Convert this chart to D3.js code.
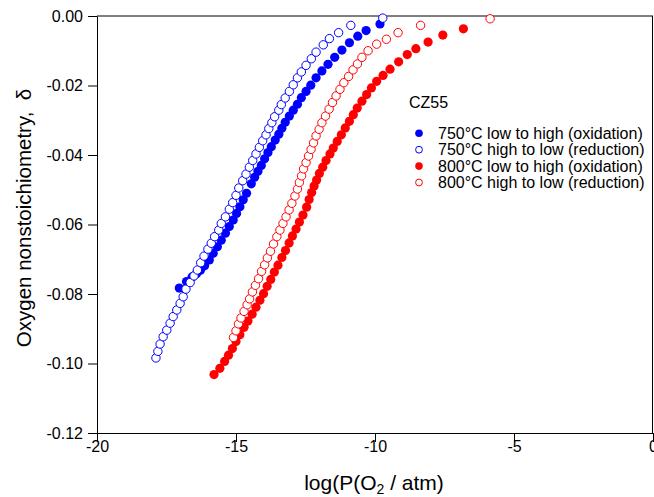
<!DOCTYPE html>
<html>
<head>
<meta charset="utf-8">
<script src="https://cdn.jsdelivr.net/npm/d3@7"></script>
<style>
  body { margin: 0; background: #fff; }
  svg text { font-family: "Liberation Sans", Arial, Helvetica, sans-serif; fill: #000; }
</style>
</head>
<body>
<div id="chart"></div>
<script>
// Data: log(pO2 / atm) and oxygen nonstoichiometry
const blueOxX = [-17.04, -16.78, -16.58, -16.42, -16.28, -16.13, -15.96, -15.82, -15.67, -15.53,
    -15.38, -15.24, -15.10, -14.98, -14.86, -14.74, -14.62, -14.45, -14.33, -14.21,
    -14.09, -13.97, -13.85, -13.73, -13.59, -13.46, -13.35, -13.23, -13.08, -12.94,
    -12.79, -12.65, -12.48, -12.31, -12.12, -11.91, -11.69, -11.45, -11.19, -10.92,
    -10.62, -10.32, -9.82];
const blueOxY = [-0.0783, -0.0764, -0.0751, -0.0742, -0.0732, -0.0719, -0.0702, -0.0683, -0.0664, -0.0645,
    -0.0625, -0.0606, -0.0587, -0.0568, -0.0549, -0.0529, -0.0510, -0.0483, -0.0464, -0.0447,
    -0.0430, -0.0411, -0.0393, -0.0376, -0.0357, -0.0340, -0.0323, -0.0306, -0.0288, -0.0271,
    -0.0254, -0.0235, -0.0217, -0.0199, -0.0178, -0.0158, -0.0139, -0.0119, -0.0098, -0.0077,
    -0.0058, -0.0042, -0.0023];

const blueRedX = [-17.88, -17.81, -17.73, -17.62, -17.49, -17.37, -17.26, -17.13, -17.01, -16.90,
    -16.80, -16.65, -16.51, -16.39, -16.27, -16.15, -16.01, -15.89, -15.77, -15.62,
    -15.53, -15.38, -15.24, -15.12, -15.00, -14.90, -14.76, -14.64, -14.52, -14.40,
    -14.28, -14.16, -14.04, -13.92, -13.82, -13.71, -13.61, -13.46, -13.37, -13.23,
    -13.08, -12.94, -12.79, -12.65, -12.48, -12.29, -12.12, -11.86, -11.64, -11.31,
    -10.87, -9.72];
const blueRedY = [-0.0984, -0.0965, -0.0944, -0.0923, -0.0904, -0.0884, -0.0865, -0.0846, -0.0827, -0.0808,
    -0.0786, -0.0767, -0.0748, -0.0731, -0.0710, -0.0691, -0.0671, -0.0654, -0.0635, -0.0616,
    -0.0597, -0.0578, -0.0556, -0.0537, -0.0516, -0.0495, -0.0474, -0.0455, -0.0435, -0.0416,
    -0.0397, -0.0378, -0.0359, -0.0342, -0.0324, -0.0307, -0.0290, -0.0271, -0.0255, -0.0236,
    -0.0217, -0.0198, -0.0178, -0.0161, -0.0142, -0.0123, -0.0104, -0.0083, -0.0065, -0.0048,
    -0.0027, -0.0006];

const redOxX = [-15.79, -15.58, -15.41, -15.27, -15.13, -15.00, -14.86, -14.71, -14.57, -14.42,
    -14.28, -14.14, -14.01, -13.88, -13.75, -13.62, -13.49, -13.35, -13.22, -13.09,
    -12.97, -12.84, -12.72, -12.59, -12.46, -12.37, -12.28, -12.19, -12.10, -12.00,
    -11.88, -11.76, -11.62, -11.50, -11.36, -11.21, -11.07, -10.92, -10.78, -10.64,
    -10.47, -10.30, -10.13, -9.94, -9.71, -9.46, -9.15, -8.84, -8.53, -8.09,
    -7.56, -6.82];
const redOxY = [-0.1032, -0.1014, -0.0994, -0.0976, -0.0957, -0.0937, -0.0917, -0.0896, -0.0878, -0.0858,
    -0.0838, -0.0818, -0.0799, -0.0778, -0.0758, -0.0737, -0.0717, -0.0695, -0.0675, -0.0653,
    -0.0633, -0.0613, -0.0593, -0.0573, -0.0550, -0.0528, -0.0508, -0.0489, -0.0472, -0.0453,
    -0.0435, -0.0416, -0.0397, -0.0380, -0.0361, -0.0342, -0.0322, -0.0303, -0.0284, -0.0265,
    -0.0245, -0.0226, -0.0207, -0.0188, -0.0171, -0.0153, -0.0132, -0.0111, -0.0094, -0.0075,
    -0.0055, -0.0037];

const redRedX = [-15.09, -15.00, -14.91, -14.82, -14.71, -14.60, -14.51, -14.41, -14.30, -14.19,
    -14.08, -13.97, -13.87, -13.76, -13.65, -13.53, -13.42, -13.31, -13.20, -13.09,
    -12.99, -12.88, -12.79, -12.72, -12.64, -12.57, -12.48, -12.39, -12.30, -12.21,
    -12.12, -12.01, -11.91, -11.78, -11.65, -11.53, -11.40, -11.26, -11.12, -10.95,
    -10.79, -10.63, -10.47, -10.25, -9.94, -9.59, -9.17, -8.36, -5.86];
const redRedY = [-0.0925, -0.0906, -0.0886, -0.0869, -0.0850, -0.0831, -0.0814, -0.0794, -0.0775, -0.0756,
    -0.0735, -0.0716, -0.0696, -0.0677, -0.0656, -0.0635, -0.0616, -0.0597, -0.0578, -0.0558,
    -0.0539, -0.0518, -0.0498, -0.0479, -0.0460, -0.0440, -0.0422, -0.0403, -0.0384, -0.0365,
    -0.0345, -0.0326, -0.0307, -0.0288, -0.0268, -0.0249, -0.0230, -0.0211, -0.0192, -0.0174,
    -0.0155, -0.0138, -0.0119, -0.0100, -0.0081, -0.0067, -0.0048, -0.0027, -0.0008];

const seriesNames = [
    "750°C low to high (oxidation)",
    "750°C high to low (reduction)",
    "800°C low to high (oxidation)",
    "800°C high to low (reduction)"
];
const seriesColors = ["#0000ff", "#0000ff", "#ff0000", "#ff0000"];
const seriesFilled = [true, false, true, false];
const xTicks = [-20, -15, -10, -5, 0];
const yTicks = [0, -0.02, -0.04, -0.06, -0.08, -0.10, -0.12];
const legendTitle = "CZ55";

// Layout
const width = 654, height = 497;
const margin = { top: 16, right: 1, bottom: 64, left: 97 };

const svg = d3.select("#chart").append("svg")
    .attr("width", width)
    .attr("height", height);

const x = d3.scaleLinear().domain([-20, 0]).range([margin.left, width - margin.right]);
const y = d3.scaleLinear().domain([-0.12, 0]).range([height - margin.bottom, margin.top]);

// Axes
const xAxis = svg.append("g")
    .attr("transform", `translate(0,${y(-0.12)})`)
    .call(d3.axisBottom(x).tickValues(xTicks).tickFormat(d => String(d))
        .tickSize(9).tickSizeOuter(0).tickPadding(-1));

const yAxis = svg.append("g")
    .attr("transform", `translate(${x(-20)},0)`)
    .call(d3.axisLeft(y).tickValues(yTicks).tickFormat(d => d.toFixed(2))
        .tickSize(9).tickSizeOuter(0).tickPadding(5));

[xAxis, yAxis].forEach(a => {
    a.selectAll("text").style("font-size", "16px").attr("fill", "#000");
    a.selectAll("line, path").attr("stroke", "#000");
});

// Frame top and right
svg.append("line")
    .attr("x1", x(-20)).attr("x2", x(0))
    .attr("y1", y(0)).attr("y2", y(0))
    .attr("stroke", "#000");
svg.append("line")
    .attr("x1", x(0) - 0.5).attr("x2", x(0) - 0.5)
    .attr("y1", y(0)).attr("y2", y(-0.12))
    .attr("stroke", "#000");

// Axis titles
const xTitle = svg.append("text")
    .attr("x", 374)
    .attr("y", 490)
    .attr("text-anchor", "middle")
    .style("font-size", "21px");
xTitle.append("tspan").text("log(P(O");
xTitle.append("tspan").attr("baseline-shift", "-25%").style("font-size", "14px").text("2");
xTitle.append("tspan").text(" / atm)");

svg.append("text")
    .attr("transform", "translate(31,218) rotate(-90)")
    .attr("text-anchor", "middle")
    .style("font-size", "20.5px")
    .style("white-space", "pre")
    .text("Oxygen nonstoichiometry,  δ");

// Markers
const allSeries = [
    blueOxX.map((d, i) => [d, blueOxY[i]]),
    blueRedX.map((d, i) => [d, blueRedY[i]]),
    redOxX.map((d, i) => [d, redOxY[i]]),
    redRedX.map((d, i) => [d, redRedY[i]])
];

allSeries.forEach((pts, s) => {
    svg.append("g").selectAll("circle")
        .data(pts)
        .join("circle")
        .attr("cx", d => x(d[0]))
        .attr("cy", d => y(d[1]))
        .attr("r", seriesFilled[s] ? 4.6 : 4.2)
        .attr("fill", seriesFilled[s] ? seriesColors[s] : "#fff")
        .attr("stroke", seriesColors[s])
        .attr("stroke-width", seriesFilled[s] ? 0 : 1);
});

// Legend
const legend = svg.append("g").attr("transform", "translate(409,0)");
legend.append("text")
    .attr("x", 0)
    .attr("y", 108)
    .style("font-size", "16px")
    .text(legendTitle);

seriesNames.forEach((name, i) => {
    const cy = 133.3 + i * 16.4;
    legend.append("circle")
        .attr("cx", 10)
        .attr("cy", cy)
        .attr("r", seriesFilled[i] ? 3.8 : 3.4)
        .attr("fill", seriesFilled[i] ? seriesColors[i] : "#fff")
        .attr("stroke", seriesColors[i])
        .attr("stroke-width", seriesFilled[i] ? 0 : 1);
    legend.append("text")
        .attr("x", 29)
        .attr("y", cy + 5.5)
        .style("font-size", "16px")
        .text(name);
});
</script>
</body>
</html>
